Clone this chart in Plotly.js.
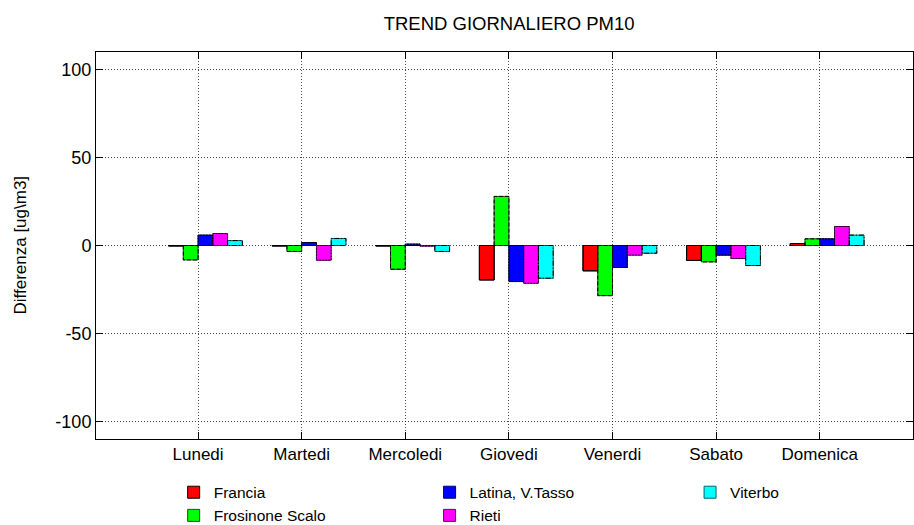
<!DOCTYPE html>
<html>
<head>
<meta charset="utf-8">
<script src="https://cdn.plot.ly/plotly-3.0.1.min.js"></script>
<style>html,body{margin:0;padding:0;background:#fff;}#chart{width:914px;height:525px;}</style>
</head>
<body>
<div id="chart"></div>
<script>
const days = ["Lunedi", "Martedi", "Mercoledi", "Giovedi", "Venerdi", "Sabato", "Domenica"];
const seriesNames = ["Francia", "Frosinone Scalo", "Latina, V.Tasso", "Rieti", "Viterbo"];
const francia   = [-0.3, -0.3, -0.3, -19.6, -14.4, -8.5, 1.1];
const frosinone = [-8.2, -3.4, -13.5, 27.9, -28.5, -9.3, 3.8];
const latina    = [5.9, 1.7, 0.8, -20.5, -12.5, -5.5, 3.8];
const rieti     = [6.8, -8.4, -0.4, -21.5, -5.5, -7.4, 10.8];
const viterbo   = [2.8, 4.0, -3.4, -18.6, -4.4, -11.4, 5.9];
const yTicks = [-100, -50, 0, 50, 100];
const yTitle = "Differenza [ug\\m3]";

const allValues = [francia, frosinone, latina, rieti, viterbo];
const fills = ["#ff0000", "#00ff00", "#0000ff", "#ff00ff", "#00ffff"];
const edge = ["#000000", "#1a4d1a", "#000066", "#660066", "#006666"];
const dashes = ["solid", "4px,2px", "2px,1px", "1px,2px", "5px,2px,1px,2px"];
const legendOf = ["legend", "legend", "legend2", "legend2", "legend3"];
const w = 0.1425;
const idx = days.map((d, i) => i);

const traces = [];
allValues.forEach((vals, s) => {
  const off = (s - 2) * w;
  traces.push({
    type: "bar", name: seriesNames[s], x: idx, y: vals,
    offset: off, width: w, legend: legendOf[s],
    marker: {color: fills[s], line: {color: edge[s], width: 1}},
    hoverinfo: "y"
  });
  const ox = [], oy = [];
  vals.forEach((v, i) => {
    const x0 = i + off, x1 = i + off + w;
    ox.push(x0, x0, x1, x1, x0, null);
    oy.push(0, v, v, 0, 0, null);
  });
  traces.push({
    type: "scatter", mode: "lines", x: ox, y: oy, showlegend: false,
    line: {color: "#000", width: 1, dash: dashes[s]}, hoverinfo: "skip"
  });
});

function legendAt(xc) {
  return {orientation: "v", x: xc, xanchor: "left", xref: "container",
          y: 0.094, yanchor: "top", yref: "container",
          traceorder: "normal", font: {size: 15.5},
          bgcolor: "rgba(0,0,0,0)", itemwidth: 30, tracegroupgap: 0};
}

const gridDash = "1px,2px";
const layout = {
  width: 914, height: 525,
  margin: {l: 96, r: 1, t: 52, b: 86, autoexpand: false},
  paper_bgcolor: "#fff", plot_bgcolor: "#fff",
  font: {family: "Liberation Sans, Arial, sans-serif", size: 17, color: "#000"},
  title: {text: "TREND GIORNALIERO PM10", x: 0.557, xanchor: "center",
          y: 0.955, yanchor: "middle", yref: "container",
          font: {size: 18.5, color: "#000"}},
  barmode: "overlay",
  showlegend: true,
  legend: legendAt(0.19),
  legend2: legendAt(0.47),
  legend3: legendAt(0.755),
  annotations: [{
    text: yTitle, xref: "paper", yref: "paper", x: -0.093, y: 0.5,
    xanchor: "center", yanchor: "middle", textangle: -90, showarrow: false,
    font: {size: 17, color: "#000"}
  }],
  xaxis: {
    range: [-0.985, 6.9], tickmode: "array", tickvals: idx, ticktext: days,
    tickangle: 0,
    showgrid: true, gridcolor: "rgba(0,0,0,0.7)", griddash: gridDash, gridwidth: 1,
    zeroline: false, showline: true, linecolor: "#000", linewidth: 1, mirror: "ticks",
    ticks: "inside", ticklen: 7, tickcolor: "#000", tickfont: {size: 17}
  },
  yaxis: {
    range: [-110, 110], tickmode: "array", tickvals: yTicks,
    ticktext: yTicks.map(String),
    showgrid: true, gridcolor: "rgba(0,0,0,0.7)", griddash: gridDash, gridwidth: 1,
    zeroline: false, showline: true, linecolor: "#000", linewidth: 1, mirror: "ticks",
    ticks: "inside", ticklen: 7, tickcolor: "#000", tickfont: {size: 18}
  }
};

Plotly.newPlot("chart", traces, layout, {displayModeBar: false, staticPlot: true});
</script>
</body>
</html>
